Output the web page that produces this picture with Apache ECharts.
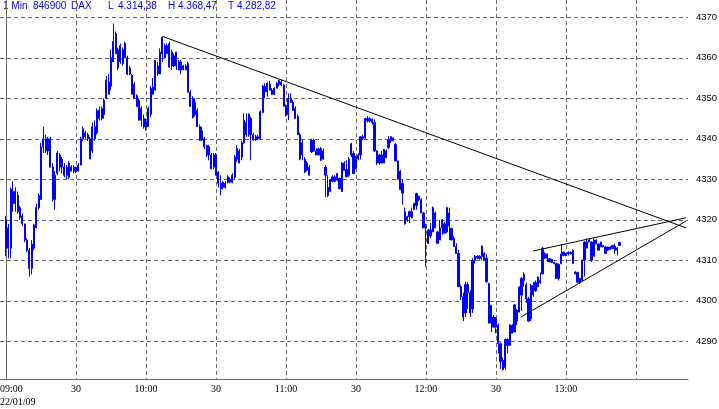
<!DOCTYPE html>
<html><head><meta charset="utf-8">
<script src="https://cdn.jsdelivr.net/npm/echarts@6/dist/echarts.min.js"></script>
<style>html,body{margin:0;padding:0;background:#fff}#c{width:719px;height:409px}</style>
</head><body><div id="c"></div>
<script>
// ---- data ----
const instrument = ['1 Min', '846900', 'DAX'];
const tradeDate = '22/01/09';
const sessionStartHour = 9;
// 1-minute bars from 09:00: [open, close, low, high]
const ohlc = [
[4320,4313,4311,4321],[4313,4318,4310.5,4319],[4313,4327.5,4310.5,4328],[4327,4324,4322,4329.5],[4324,4327,4322,4328],
[4326,4322,4321.5,4327],[4323,4320.6,4320,4323.5],[4321,4319,4318.5,4321.5],[4319,4315,4314.5,4319],[4315,4312.5,4312,4315.5],
[4312.5,4308,4306,4313],[4308,4314,4306.5,4315],[4313,4318.7,4312.5,4319],[4318,4323,4318,4324],[4323,4326,4322.5,4326.5],
[4325,4338,4325,4339],[4338,4340,4336.5,4343],[4340,4337,4336.5,4341],[4337,4340,4336,4340.5],[4340,4333,4333,4340.5],
[4333,4325,4324.5,4334],[4325,4331,4322.5,4332],[4331.5,4336.5,4331,4337],[4336,4333,4332,4336.5],[4333,4335,4331.5,4335.5],
[4333,4331,4330.5,4334],[4331,4333,4330,4333.5],[4330.5,4334,4330,4334.5],[4333,4332,4332,4333.5],[4332,4333,4331.5,4333.5],
[4333,4332,4331.5,4333],[4332,4333.5,4332,4334],[4333.5,4340,4333.5,4340.5],[4340,4342.5,4339.5,4343],[4341.5,4340.5,4340,4342],
[4341,4340,4339.5,4341.5],[4340,4335,4335,4340.5],[4337,4343,4336.5,4344],[4343,4340,4339.5,4344.5],[4341.5,4347,4341,4347.5],
[4347,4345,4344.5,4348],[4345,4347.5,4344.6,4348],[4346,4349.5,4345,4350],[4350,4354.5,4350,4355.5],[4354,4351,4351,4356],
[4353,4360,4352,4362],[4359,4364,4359,4368.47],[4366,4361,4361,4366.5],[4362,4357.5,4357,4362.5],[4359,4363,4358.5,4363.5],
[4362,4358.5,4358,4362.5],[4360,4363.5,4360,4364],[4360,4356,4355.7,4360.5],[4356,4357.5,4355.7,4358],[4355.7,4351,4351,4356],
[4353.5,4350,4350,4354],[4350.7,4348,4347.8,4351],[4349.5,4344.6,4344.5,4350],[4344.6,4347.5,4343,4348],[4345,4343,4342.5,4346],
[4343,4344,4342,4345],[4343,4347.5,4343,4348],[4346,4352.5,4345.3,4353],[4352.7,4351,4351,4355],[4352,4359.4,4352,4359.5],
[4358,4356,4355.5,4359],[4356,4361.4,4356,4362.3],[4361,4365,4359,4365.3],[4363,4360,4360,4363.5],[4361,4363,4361,4363.5],
[4363.5,4357.7,4357.5,4364],[4358,4361.4,4357,4362],[4360.5,4358,4357.7,4361],[4358,4361.4,4357,4361.5],[4359,4357,4357,4359.5],
[4357,4359,4356,4359.5],[4358,4357,4357,4358.3],[4357,4358,4357,4358.5],[4358.6,4351.5,4351.5,4359],[4351.5,4348,4347.8,4352],
[4350,4345.3,4345,4350.5],[4346,4349,4345.5,4350],[4347,4343,4343,4347.5],[4343,4339.6,4339.5,4343.5],[4342,4339.7,4339.5,4343],
[4340,4338,4337.5,4340.5],[4338.4,4336,4335.5,4338.5],[4336,4338,4334.7,4338.5],[4336,4332.6,4332.5,4336.5],[4333,4336,4332.5,4336.5],
[4336,4331,4331,4336.5],[4331.8,4329,4328,4332],[4329,4327.7,4326,4331],[4328,4329.3,4327.5,4329.5],[4329,4328,4327.7,4329.5],
[4329.3,4330.6,4329,4331],[4330,4329.3,4329,4330.5],[4329.3,4331,4329,4331.5],[4330.5,4335.5,4330,4336],[4335,4337.6,4334.3,4338.4],
[4337,4334,4334,4337.5],[4335.5,4339,4334.7,4339.5],[4339,4344.6,4338.8,4346.3],[4344,4341,4340.5,4346.3],[4341,4346,4340.5,4346.3],
[4345,4341,4334.7,4345.5],[4341,4339.7,4339.5,4341.5],[4339.7,4340.5,4339.5,4341],[4340,4340.5,4339.7,4341],[4340,4346.7,4339.7,4347],
[4346.5,4353,4346.3,4353.3],[4353,4351.6,4350,4353.7],[4351.6,4353.7,4350.4,4354],[4353.5,4352,4352,4354.3],[4352,4351,4350.8,4352.5],
[4351,4352.5,4350.8,4352.7],[4352.5,4353.7,4352.5,4354],[4353.5,4354.4,4352.9,4354.6],[4354,4353.3,4353,4354.6],[4353.3,4348,4348,4353.5],
[4348,4346,4345.5,4348.5],[4346,4350,4344.6,4351.2],[4350,4349,4348.8,4351.2],[4349,4347,4347,4349.6],[4347.5,4345,4345,4348],
[4345.5,4341,4341,4346],[4341,4335,4334.7,4341.5],[4336,4339,4334.7,4339.7],[4335,4331.8,4331.5,4335.5],[4332.3,4334,4332,4334.5],
[4333,4331,4331,4333.5],[4336.8,4339.7,4336.5,4340],[4339.7,4337,4336.8,4340],[4337,4336,4336,4337.6],[4336,4337.5,4336,4337.8],
[4337.6,4334.7,4334.5,4338],[4335,4337,4334.8,4337.6],[4333,4331,4325.6,4333.5],[4328,4326,4325.6,4331],[4327,4329.8,4327,4330],
[4329.5,4330.6,4329.3,4331],[4330.6,4329.5,4329.3,4331],[4329.8,4331.4,4329.5,4331.6],[4330.2,4327.7,4327.5,4330.5],[4327,4334,4326.9,4334.3],
[4334,4332.2,4332,4334.5],[4332.5,4330.6,4330.5,4334.7],[4331,4335,4330.6,4335.5],[4336,4338.8,4335.5,4339],[4336.4,4331.4,4331.4,4337],
[4332.6,4335.5,4332.5,4335.8],[4335,4336,4334.7,4336.4],[4336,4340.5,4334.9,4340.7],[4340.5,4340,4339.7,4341],[4340.2,4345,4340,4345.2],
[4345,4344.4,4344,4345.6],[4344.4,4345,4344,4345.3],[4344.8,4344,4343.5,4345],[4344,4337,4336.8,4344.8],[4337,4334,4333.5,4337.2],
[4334,4336,4333.6,4336.3],[4336,4334,4334,4337],[4334,4337.4,4334,4337.5],[4337,4335.3,4335.3,4337.4],[4337.8,4339.8,4337.5,4340.7],
[4340.5,4339.5,4339,4340.7],[4339.5,4340.2,4339.4,4340.3],[4338.6,4334.5,4334.5,4339],[4334.5,4330,4330,4334.7],[4332,4327.4,4327.4,4332.3],
[4329,4326.6,4323.7,4330],[4322,4319,4318.8,4323],[4320,4320.8,4319.5,4321],[4320.8,4322,4319.2,4322.3],[4322,4320.5,4320.4,4323],
[4322.5,4324,4322.5,4324.2],[4323.5,4326.5,4322.5,4326.7],[4325.8,4325,4324.6,4326],[4325,4321.7,4321.7,4325.3],[4321.7,4318,4318,4322],
[4318,4318.3,4308.4,4319],[4317.5,4314.2,4314,4317.8],[4316,4317.5,4315.5,4319.2],[4317,4323,4317,4323.3],[4321.7,4318,4318,4322],
[4317,4314.2,4314,4317.3],[4315,4318,4315,4320],[4318,4320,4316.3,4320.2],[4319,4316.7,4316.7,4319.5],[4317,4323,4316.7,4323.2],
[4321.7,4318.5,4315,4323],[4317.9,4315,4315,4318],[4315.5,4313.4,4313.4,4316],[4313.4,4311.7,4311.7,4314.2],[4311.7,4303.5,4303.5,4312.6],
[4303.5,4301,4300.2,4304],[4301,4296,4295,4302],[4297,4304,4296,4304.7],[4304,4302,4298,4304.7],[4302,4297,4296,4302.6],
[4298,4310,4297,4310.5],[4310,4311,4309.2,4311.3],[4311,4310.5,4310.3,4311.3],[4310.5,4311,4310.2,4311.3],[4311,4313.5,4310,4313.7],
[4311.7,4310,4310,4312],[4310.5,4304.7,4304.5,4311.6],[4304.2,4294.5,4294.4,4304.5],[4294.5,4298.9,4292.3,4299],[4296,4293.5,4293.5,4296.5],
[4293.5,4295.6,4292,4296],[4294,4289.4,4287,4294.4],[4289.4,4285,4283.2,4289.8],[4285.3,4283,4282.82,4286],[4283.5,4290.5,4283,4290.7],
[4290.5,4289,4287,4290.7],[4289,4294,4289,4294.3],[4294,4292,4292,4294.3],[4292.3,4299,4292.3,4299.2],[4297.7,4295,4294,4298],
[4297.2,4303.4,4297.2,4303.6],[4301.4,4305.5,4297.5,4305.8],[4305,4306.5,4303.5,4307],[4304,4300.5,4299.5,4304.5],[4300.5,4295,4294.8,4301],
[4295.5,4303.8,4295,4304.2],[4303.8,4301.5,4301,4304.6],[4302.5,4304.6,4302.2,4305],[4303.5,4305.9,4303.4,4306],[4305,4304.5,4304.2,4307],
[4306.7,4313,4306.5,4313.3],[4311.6,4310.5,4310.4,4312],[4310.5,4311.5,4309.6,4311.7],[4310.4,4309.6,4309.5,4310.6],[4310.2,4309.5,4309.3,4310.4],
[4309.5,4309.2,4309,4309.7],[4309.2,4305.5,4305.5,4309.4],[4305.5,4309,4305,4309.2],[4309.2,4311.5,4309,4314],[4312,4311.2,4311,4312.2],
[4311.2,4311.6,4311,4311.8],[4311.6,4312,4311.2,4312.2],[4312,4311.6,4311.5,4312.2],[4312.5,4309.2,4309.2,4312.7],[4307.1,4306.7,4306.5,4307.3],
[4307,4304.6,4304.5,4307.2],[4304.6,4305.5,4304.2,4305.7],[4305,4310,4305,4310.2],[4310,4314.5,4306,4314.7],[4314.5,4313,4313,4315.4],
[4315,4314.5,4314.5,4315.5],[4314.5,4310,4309.6,4314.7],[4311,4315,4311,4315.4],[4315,4314,4314,4315.2],[4314,4312.5,4312.5,4314.2],
[4313.3,4314.5,4313.3,4314.6],[4313.7,4313.3,4313.3,4313.8],[4313.3,4311.7,4311.6,4313.5],[4312.5,4313.3,4312.3,4313.4],[4313.3,4312.7,4312.5,4313.5],
[4312.9,4313.7,4312.9,4313.8],[4313.5,4312.5,4311.6,4314.1],[4312.5,4313,4311.2,4313.3],[4313.7,4314.38,4313.5,4314.6]
];
// trend lines: [minute after 09:00, price]
const resistanceLine = [[67, 4365.3], [291.5, 4318.0]];
const wedgeUpper = [[225.9, 4312.3], [291.5, 4320.5]];
const wedgeLower = [[220.7, 4296.0], [291.5, 4319.7]];
// axes
const xRange = [-2.57, 292.3];
const xTickMinutes = [30, 60, 90, 120, 150, 180, 210, 240, 270];
const xLabelMinutes = [0, 30, 60, 90, 120, 150, 180, 210, 240];
const yRange = [4280.7, 4374.27];
const yTicks = [4290, 4300, 4310, 4320, 4330, 4340, 4350, 4360, 4370];

// ---- derived header values ----
function de(v) {
  const s = v.toFixed(2).split('.');
  return s[0].replace(/\B(?=(\d{3})+(?!\d))/g, '.') + ',' + s[1];
}
const lastPrice = ohlc[ohlc.length - 1][1];
const highPrice = Math.max(...ohlc.map(r => r[3]));
const lowPrice = Math.min(...ohlc.map(r => r[2]));
const headerTexts = [instrument[0], instrument[1], instrument[2], 'L', de(lastPrice), 'H', de(highPrice), 'T', de(lowPrice)];
const headerX = [3, 33, 71, 108, 118, 168, 178, 228, 237];

function pad(n) { return (n < 10 ? '0' : '') + n; }
const labelValues = [xRange[0]].concat(xLabelMinutes.slice(1));

const chart = echarts.init(document.getElementById('c'), null, {renderer: 'canvas'});
const blue = '#0000ff';
const gridColor = '#6a6a6a';
chart.setOption({
  animation: false,
  backgroundColor: '#ffffff',
  grid: {left: 0, top: 0, right: 31, bottom: 30, containLabel: false, outerBoundsMode: 'none'},
  xAxis: {
    type: 'value', min: xRange[0], max: xRange[1],
    axisLine: {show: true, lineStyle: {color: gridColor, width: 1}},
    axisTick: {show: false, customValues: xTickMinutes},
    splitLine: {show: true, lineStyle: {color: gridColor, width: 1, type: [4, 3]}},
    axisLabel: {
      customValues: labelValues, alignMinLabel: 'left', margin: 4,
      color: '#000', fontFamily: 'Liberation Serif', fontSize: 10, lineHeight: 13,
      formatter: function (v) {
        if (v <= 0) return pad(sessionStartHour) + ':00\n' + tradeDate;
        const m = Math.round(v);
        return m % 60 === 0 ? pad(sessionStartHour + m / 60) + ':00' : '30';
      }
    }
  },
  yAxis: {
    type: 'value', position: 'right', min: yRange[0], max: yRange[1], scale: true,
    axisLine: {show: true, lineStyle: {color: gridColor, width: 1}},
    axisTick: {show: true, inside: false, length: 4, customValues: yTicks, lineStyle: {color: gridColor}},
    splitLine: {show: true, lineStyle: {color: gridColor, width: 1, type: [4, 3]}},
    axisLabel: {customValues: yTicks, margin: 8, color: '#000', fontFamily: 'Liberation Sans', fontSize: 9.5,
      formatter: function (v) { return String(Math.round(v)); }}
  },
  series: [
    {
      type: 'candlestick', silent: true, barWidth: 1.8,
      data: ohlc.map((r, i) => [i, r[0], r[1], r[2], r[3]]),
      itemStyle: {color: blue, color0: blue, borderColor: blue, borderColor0: blue, borderWidth: 1}
    },
    {type: 'line', data: resistanceLine, showSymbol: false, silent: true, lineStyle: {color: '#000', width: 1}, z: 5},
    {type: 'line', data: wedgeUpper, showSymbol: false, silent: true, lineStyle: {color: '#000', width: 1}, z: 5},
    {type: 'line', data: wedgeLower, showSymbol: false, silent: true, lineStyle: {color: '#000', width: 1}, z: 5}
  ],
  graphic: headerTexts.map((t, i) => ({
    type: 'text', left: headerX[i], top: 1, silent: true,
    style: {text: t, fill: blue, font: '10px "Liberation Sans"'}
  }))
});
</script></body></html>
